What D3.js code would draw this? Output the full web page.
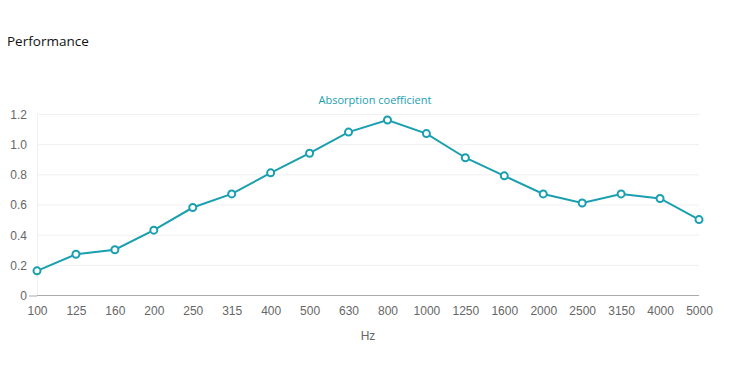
<!DOCTYPE html>
<html><head><meta charset="utf-8">
<script src="https://cdn.jsdelivr.net/npm/d3@7"></script>
<style>body{margin:0;background:#fff;} svg{display:block;}</style>
</head><body>
<script>
const categories = ["100","125","160","200","250","315","400","500","630","800","1000","1250","1600","2000","2500","3150","4000","5000"];
const absorption = [0.16,0.27,0.30,0.43,0.58,0.67,0.81,0.94,1.08,1.16,1.07,0.91,0.79,0.67,0.61,0.67,0.64,0.50];
const yTicks = [0,0.2,0.4,0.6,0.8,1.0,1.2];
const seriesName = "Absorption coefficient";
const xTitle = "Hz";
const chartTitle = "Performance";

(function(){
const W = 743, H = 386;
const pL = 37, pR = 699, pT = 114, pB = 295;
const color = "#1a9fb0";
const svg = d3.select("body").append("svg").attr("width", W).attr("height", H);

svg.append("text").attr("x", 7).attr("y", 46).text(chartTitle)
  .attr("font-family", "Open Sans, sans-serif").attr("font-size", 13.5).attr("fill", "#111");

const x = d3.scalePoint().domain(categories).range([pL, pR]);
const y = d3.scaleLinear().domain([0, 1.2]).range([pB, pT]);

svg.append("g").selectAll("line").data(yTicks.filter(d => d > 0)).join("line")
  .attr("x1", pL).attr("x2", pR).attr("y1", d => y(d)+0.5).attr("y2", d => y(d)+0.5)
  .attr("stroke", "#f0f0f0").attr("stroke-width", 1);
svg.append("line").attr("x1", pL+0.5).attr("x2", pL+0.5).attr("y1", pT).attr("y2", pB)
  .attr("stroke", "#f0f0f0");

const yAxis = d3.axisLeft(y).tickValues(yTicks).tickSize(8).tickPadding(2)
  .tickFormat(d => d === 0 ? "0" : d3.format(".1f")(d));
const gy = svg.append("g").attr("transform", `translate(${pL},0.5)`).call(yAxis);
gy.select(".domain").remove();
gy.selectAll(".tick line").attr("stroke", d => d === 0 ? "#aaa" : "none");
gy.selectAll("text").attr("font-family", "Liberation Sans, Arial, sans-serif").attr("font-size", 12).attr("fill", "#666");

const xAxis = d3.axisBottom(x).tickSize(0).tickPadding(11);
const gx = svg.append("g").attr("transform", `translate(0,${pB+0.5})`).call(xAxis);
gx.select(".domain").attr("stroke", "#aaa").attr("d", `M${pL},0H${pR}`);
gx.selectAll("text").attr("font-family", "Liberation Sans, Arial, sans-serif").attr("font-size", 12).attr("fill", "#666");

svg.append("text").attr("x", (pL+pR)/2).attr("y", 340).attr("text-anchor", "middle").text(xTitle)
  .attr("font-family", "Liberation Sans, Arial, sans-serif").attr("font-size", 12).attr("fill", "#666");

svg.append("text").attr("x", (pL+pR)/2+7).attr("y", 104).attr("text-anchor", "middle").text(seriesName)
  .attr("font-family", "Open Sans, sans-serif").attr("font-size", 11).attr("fill", color);

const line = d3.line().x((d, i) => x(categories[i])).y(d => y(d));
svg.append("path").datum(absorption).attr("d", line).attr("fill", "none")
  .attr("stroke", color).attr("stroke-width", 2);
svg.append("g").selectAll("circle").data(absorption).join("circle")
  .attr("cx", (d, i) => x(categories[i])).attr("cy", d => y(d)).attr("r", 3.5)
  .attr("fill", "#fff").attr("stroke", color).attr("stroke-width", 2);
})();
</script>
</body></html>
